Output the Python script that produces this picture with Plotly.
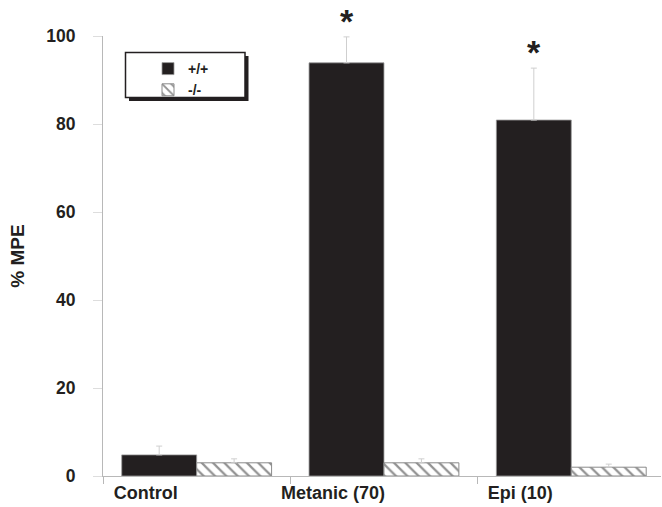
import plotly.graph_objects as go

# Treatment groups and mean % MPE with upper SEM per genotype
categories = ["Control", "Metanic (70)", "Epi (10)"]
wt_values = [4.8, 93.9, 80.9]
wt_err = [2.0, 5.9, 11.8]
ko_values = [3.0, 3.0, 2.0]
ko_err = [0.9, 0.9, 0.7]
significant = [False, True, True]

INK = "#231f20"
GRID = "#b8b8b8"
FONT = "Liberation Sans, Arial, Helvetica, sans-serif"

fig = go.Figure()
fig.add_trace(go.Bar(
    name="+/+", x=categories, y=wt_values,
    marker=dict(color=INK, line=dict(color="#9a9a9a", width=0.8)),
    error_y=dict(type="data", symmetric=False, array=wt_err,
                 arrayminus=[0] * len(wt_err), color="#cfcfcf",
                 thickness=1, width=3),
))
fig.add_trace(go.Bar(
    name="-/-", x=categories, y=ko_values,
    marker=dict(color="white", line=dict(color="#8a8a8a", width=1),
                pattern=dict(shape="\\", fgcolor="#262626", bgcolor="white",
                             size=8, solidity=0.28)),
    error_y=dict(type="data", symmetric=False, array=ko_err,
                 arrayminus=[0] * len(ko_err), color="#cfcfcf",
                 thickness=1, width=3),
))

# Significance markers above the +/+ bars
for i, (v, e, s) in enumerate(zip(wt_values, wt_err, significant)):
    if s:
        fig.add_annotation(x=i - 0.2, y=v + e, xref="x", yref="y",
                           text="*", showarrow=False, yanchor="bottom",
                           yshift=-5,
                           font=dict(family=FONT, size=34, color=INK,
                                     weight="bold"))

# Legend frame with drop shadow (pixel positions converted to paper units)
def px_x(p):
    return (p - 103) / 558

def px_y(p):
    return (476 - p) / 440

fig.add_shape(type="rect", xref="paper", yref="paper",
              x0=px_x(129), x1=px_x(248.5), y0=px_y(101), y1=px_y(56),
              fillcolor=INK, line=dict(width=0), layer="above")
fig.add_shape(type="rect", xref="paper", yref="paper",
              x0=px_x(125.5), x1=px_x(245), y0=px_y(97.5), y1=px_y(52.5),
              fillcolor="white", line=dict(color=INK, width=1.5), layer="above")

fig.update_layout(
    width=662, height=507,
    margin=dict(l=103, r=1, t=36, b=31),
    paper_bgcolor="white", plot_bgcolor="white",
    barmode="group", bargap=0.2, bargroupgap=0,
    font=dict(family=FONT, color=INK, weight="bold"),
    showlegend=True,
    legend=dict(x=px_x(148), y=px_y(53), xanchor="left", yanchor="top",
                bgcolor="rgba(0,0,0,0)", borderwidth=0,
                font=dict(family=FONT, size=14, color=INK, weight="bold"),
                tracegroupgap=0),
    xaxis=dict(
        range=[-0.5, 2.479], showline=True, linecolor=GRID, linewidth=1,
        ticks="outside", tickson="boundaries", ticklen=7, tickcolor=GRID,
        tickfont=dict(family=FONT, size=18, color=INK, weight="bold"),
        ticklabelshift=-51, showgrid=False, zeroline=False,
    ),
    yaxis=dict(
        range=[0, 100], tickvals=[0, 20, 40, 60, 80, 100],
        showline=True, linecolor=GRID, linewidth=1,
        ticks="outside", ticklen=9, tickcolor="#dddddd",
        tickfont=dict(family=FONT, size=17.5, color=INK, weight="bold"),
        ticklabelstandoff=14, showgrid=False, zeroline=False,
        title=dict(text="% MPE", standoff=16,
                   font=dict(family=FONT, size=19, color=INK, weight="bold")),
    ),
)

fig.write_html("out.html")
